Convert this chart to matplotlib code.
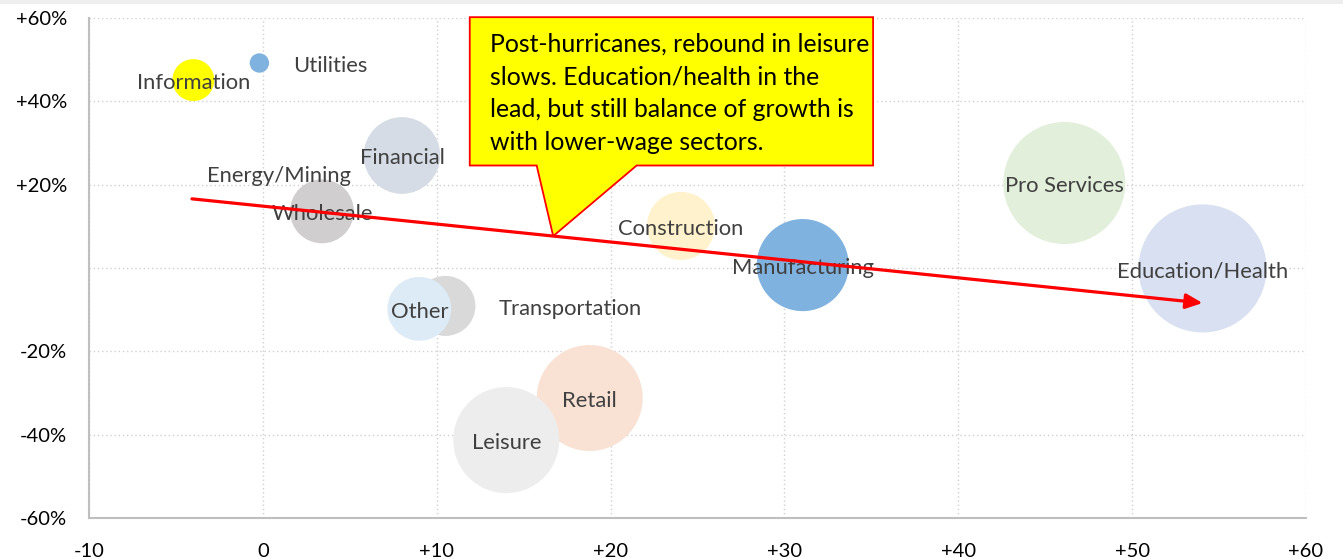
import numpy as np
import matplotlib
matplotlib.use("Agg")
import matplotlib.pyplot as plt
from matplotlib.patches import Polygon, Rectangle
from matplotlib.ticker import FuncFormatter

# sectores: crecimiento (eje x), variacion % (eje y), tamaño de burbuja
sectors = ["Information", "Utilities", "Financial", "Energy/Mining", "Wholesale",
           "Transportation", "Other", "Retail", "Leisure", "Construction",
           "Manufacturing", "Pro Services", "Education/Health"]
x_vals = [-4.0, -0.2, 8.0, 0.9, 3.4, 10.5, 9.0, 18.8, 14.0, 24.05, 31.05, 46.1, 54.05]
y_vals = [45.1, 49.2, 27.0, 22.8, 13.6, -9.1, -9.8, -31.2, -41.3, 10.1, 0.7, 20.4, -0.1]
bubble = [4.4, 0.94, 14.7, 0.0, 10.2, 9.0, 10.2, 28.1, 28.1, 11.6, 21.2, 37.2, 41.0]
colors = ["#ffff00", "#80b2df", "#d6dce5", "#d0cece", "#d0cece", "#d9d9d9", "#ddebf7",
          "#f9e2d4", "#ededed", "#fff2cc", "#80b2df", "#e2efda", "#d8e0f1"]
right_labels = ["Utilities", "Transportation"]

# flecha de tendencia
trend_x = [-4.08, 54.05]
trend_y = [16.6, -8.4]

note = ("Post-hurricanes, rebound in leisure\n"
        "slows. Education/health in the\n"
        "lead, but still balance of growth is\n"
        "with lower-wage sectors.")

plt.rcParams["font.family"] = ["Lato", "DejaVu Sans"]

fig = plt.figure(figsize=(13.43, 5.58), dpi=100)
ax = fig.add_axes([89/1343, 1-518/558, (1306-89)/1343, 500/558])
fig.patches.append(Rectangle((0, 1-4/558), 1, 4/558, transform=fig.transFigure,
                             facecolor="#eeeeee", edgecolor="none"))

sizes = [207.4*b for b in bubble]
for i, name in enumerate(sectors):
    ax.scatter(x_vals[i], y_vals[i], s=sizes[i], color=colors[i], edgecolors="none",
               zorder=2+i*0.01, clip_on=False)
for i, name in enumerate(sectors):
    if name in right_labels:
        off, ha = np.sqrt(sizes[i])/2 + 17, "left"
    else:
        off, ha = 0, "center"
    ax.annotate(name, (x_vals[i], y_vals[i]), xytext=(off, -2), textcoords="offset points",
                ha=ha, va="center", fontsize=15.8, color="#404040", zorder=3)

ax.annotate("", xy=(trend_x[1], trend_y[1]), xytext=(trend_x[0], trend_y[0]),
            arrowprops=dict(arrowstyle="-|>,head_length=1.0,head_width=0.45",
                            color="#ff0000", lw=2.3, shrinkA=0, shrinkB=0), zorder=4)

# globo de texto
tip_x = 16.7
tip_y = trend_y[0] + (tip_x-trend_x[0])*(trend_y[1]-trend_y[0])/(trend_x[1]-trend_x[0])
box = [(11.9, 60.2), (35.1, 60.2), (35.1, 24.6), (21.5, 24.6), (tip_x, tip_y),
       (15.75, 24.6), (11.9, 24.6)]
ax.add_patch(Polygon(box, closed=True, facecolor="#ffff00", edgecolor="#ff0000",
                     lw=1.3, zorder=5, clip_on=False))
ax.text(13.05, 56.6, note, ha="left", va="top", fontsize=17.8, color="black",
        linespacing=1.52, zorder=6)

ax.set_xlim(-10, 60)
ax.set_ylim(-60, 60)
ax.set_xticks(np.arange(-10, 61, 10))
ax.set_yticks(np.arange(-60, 61, 20))
ax.xaxis.set_major_formatter(FuncFormatter(lambda v, p: "%+d" % v if v != 0 else "0"))
ax.yaxis.set_major_formatter(FuncFormatter(lambda v, p: "%+d%%" % v if v > 0 else ("%d%%" % v if v < 0 else "")))
ax.tick_params(length=0, labelsize=14.5, colors="black")
ax.tick_params(axis="y", pad=16)
ax.tick_params(axis="x", pad=18)
ax.grid(True, color="#d0d0d0", linestyle=(0, (1, 2)), lw=1.0)
ax.set_axisbelow(True)
for s in ["top", "right"]:
    ax.spines[s].set_visible(False)
for s in ["left", "bottom"]:
    ax.spines[s].set_color("#bfbfbf")
    ax.spines[s].set_linewidth(1.5)

fig.savefig("out.png", dpi=100)
